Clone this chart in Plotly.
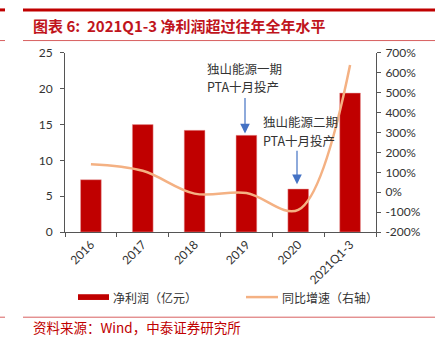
import plotly.graph_objects as go

categories = ["2016", "2017", "2018", "2019", "2020", "2021Q1-3"]
net_profit = [7.3, 15.0, 14.2, 13.5, 6.0, 19.4]
yoy_growth = [141, 108, -7, -4, -89, 640]
left_ticks = [0, 5, 10, 15, 20, 25]
right_ticks = [-200, -100, 0, 100, 200, 300, 400, 500, 600, 700]
right_tick_labels = [f"{v}%" for v in right_ticks]

W, H = 440, 351
RED = "#C00000"
TXT = "#333333"
TICKFONT = dict(family="Lato, Liberation Sans, sans-serif", size=12, color=TXT)
CJK = "Noto Sans CJK SC"

def px(x):
    return x / W

def py(y):
    return 1 - y / H

fig = go.Figure()
fig.add_trace(go.Bar(x=categories, y=net_profit, name="净利润（亿元）",
                     marker=dict(color=RED, line=dict(color="#E8A0A0", width=0.5)),
                     width=0.4, yaxis="y"))
fig.add_trace(go.Scatter(x=categories, y=yoy_growth, name="同比增速（右轴）",
                         mode="lines", line=dict(color="#F4B183", width=2.5, shape="spline", smoothing=1.0),
                         yaxis="y2"))

fig.update_layout(
    width=W, height=H,
    margin=dict(l=0, r=0, t=0, b=0),
    paper_bgcolor="white", plot_bgcolor="white",
    showlegend=False,
    bargap=0.6,
    xaxis=dict(domain=[px(65), px(376)], showgrid=False, showline=True, linecolor="#555555", linewidth=1,
               ticks="outside", ticklen=4, tickcolor="#555555", tickson="boundaries",
               tickangle=-45, tickfont=TICKFONT, anchor="y"),
    yaxis=dict(domain=[py(234), py(47)], range=[0, 25], tickvals=left_ticks, showgrid=False,
               showline=True, linecolor="#555555", linewidth=1, ticks="outside", ticklen=4,
               tickcolor="#555555", tickfont=TICKFONT, zeroline=False, ticklabelstandoff=5),
    yaxis2=dict(domain=[py(234), py(47)], range=[-200, 700], tickvals=right_ticks, ticktext=right_tick_labels,
                overlaying="y", side="right", showgrid=False, showline=True, linecolor="#555555", linewidth=1,
                ticks="outside", ticklen=4, tickcolor="#555555", tickfont=TICKFONT, zeroline=False,
                anchor="x", ticklabelstandoff=2),
)

shapes = [
    dict(type="line", xref="paper", yref="paper", x0=px(23), x1=px(435), y0=py(2), y1=py(2),
         line=dict(color=RED, width=3)),
    dict(type="line", xref="paper", yref="paper", x0=0, x1=px(5), y0=py(2), y1=py(2),
         line=dict(color=RED, width=3)),
    dict(type="line", xref="paper", yref="paper", x0=px(23), x1=px(435), y0=py(34), y1=py(34),
         line=dict(color="#D86060", width=1)),
    dict(type="line", xref="paper", yref="paper", x0=0, x1=px(5), y0=py(34), y1=py(34),
         line=dict(color="#D86060", width=1)),
    dict(type="line", xref="paper", yref="paper", x0=px(23), x1=px(435), y0=py(323), y1=py(323),
         line=dict(color="#D86060", width=1)),
    dict(type="line", xref="paper", yref="paper", x0=0, x1=px(5), y0=py(323), y1=py(323),
         line=dict(color="#D86060", width=1)),
    # legend swatches
    dict(type="rect", xref="paper", yref="paper", x0=px(78), x1=px(109), y0=py(299), y1=py(305),
         fillcolor=RED, line=dict(width=0)),
    dict(type="line", xref="paper", yref="paper", x0=px(246), x1=px(278), y0=py(302), y1=py(302),
         line=dict(color="#F4B183", width=2.5)),
]

def label(text, x, y, size=12.5, color=TXT, weight="normal"):
    return dict(text=text, xref="paper", yref="paper", x=px(x), y=py(y),
                xanchor="left", yanchor="middle", showarrow=False, borderpad=0,
                font=dict(family=CJK, size=size, color=color, weight=weight))

def arrow(x, y_tail, y_head):
    return dict(text="", xref="paper", yref="paper", x=px(x), y=py(y_head), ax=0, ay=y_tail - y_head,
                showarrow=True, arrowhead=2, arrowsize=1.6, arrowwidth=1.2, arrowcolor="#4472C4",
                font=dict(size=1), borderpad=0)

annotations = [
    label("图表 6:  2021Q1-3 净利润超过往年全年水平", 32, 18, size=15, color="#C0141C", weight="bold"),
    label("资料来源：Wind，中泰证券研究所", 32, 333, size=13.5, color=RED),
    label("净利润（亿元）", 112, 302, size=12),
    label("同比增速（右轴）", 281, 302, size=12),
    label("独山能源一期", 206, 63),
    label("PTA十月投产", 206, 82),
    label("独山能源二期", 262, 119),
    label("PTA十月投产", 262, 138),
    arrow(245, 95, 131),
    arrow(297, 150, 184),
]

fig.update_layout(shapes=shapes, annotations=annotations)
fig.write_html("out.html")
